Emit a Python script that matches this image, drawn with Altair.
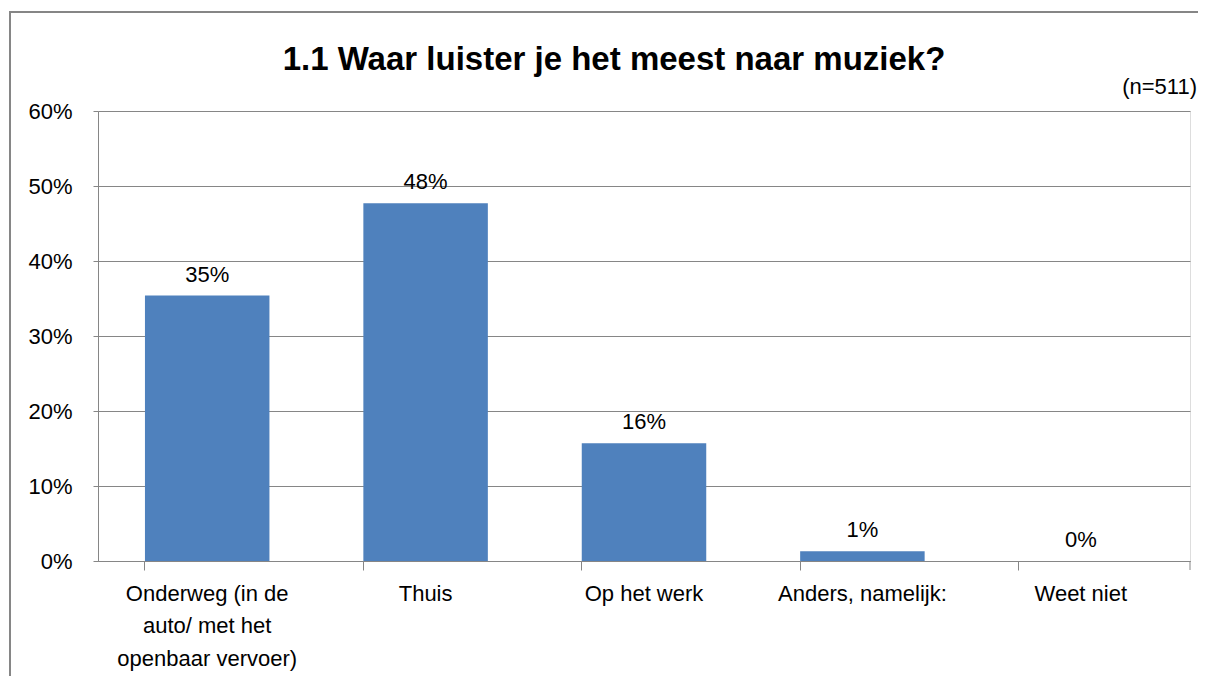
import altair as alt
import pandas as pd

categories = ["Onderweg (in de|auto/ met het|openbaar vervoer)", "Thuis", "Op het werk",
              "Anders, namelijk:", "Weet niet"]
shares = [0.354, 0.477, 0.157, 0.013, 0.0]
y_ticks = [0.0, 0.1, 0.2, 0.3, 0.4, 0.5, 0.6]
title_text = "1.1 Waar luister je het meest naar muziek?"
note_text = "(n=511)"

FONT = "Liberation Sans"
GRAY = "#868686"

df = pd.DataFrame({"cat": categories, "v": shares})

xscale = alt.Scale(paddingInner=0.43, paddingOuter=0.215)
yscale = alt.Scale(domain=[0, 0.6], nice=False)

bars = alt.Chart(df).mark_bar(color="#4F81BD").encode(
    x=alt.X("cat:N", sort=None, scale=xscale, title=None,
            axis=alt.Axis(orient="bottom", labelAngle=0, ticks=False, tickSize=0, domain=True,
                          domainColor=GRAY,
                          labelExpr="split(datum.label, '|')", labelFontSize=22, labelFont=FONT,
                          labelColor="black", labelPadding=22, labelLineHeight=32.5,
                          labelLimit=0, grid=False)),
    y=alt.Y("v:Q", scale=yscale, title=None,
            axis=alt.Axis(values=y_ticks, format=".0%", labelFontSize=22, labelFont=FONT,
                          labelColor="black", labelPadding=21, tickSize=5, tickColor=GRAY,
                          domainColor=GRAY, gridColor=GRAY, gridWidth=1)),
)

labels = alt.Chart(df).mark_text(baseline="bottom", dy=-9, fontSize=22, font=FONT,
                                 color="black").encode(
    x=alt.X("cat:N", sort=None, scale=xscale, title=None,
            axis=alt.Axis(orient="bottom", bandPosition=0, labels=False, domain=False,
                          grid=False, tickSize=9, tickColor=GRAY)),
    y=alt.Y("v:Q", scale=yscale, axis=None),
    text=alt.Text("v:Q", format=".0%"),
)

end_tick = alt.Chart(pd.DataFrame({"k": [1]})).mark_rule(color=GRAY).encode(
    x=alt.value(1092), y=alt.value(450), y2=alt.value(459))

frame = alt.Chart(pd.DataFrame({"k": [1]})).mark_rect(
    fill=None, stroke=GRAY, strokeWidth=2).encode(
    x=alt.value(-88), x2=alt.value(1300), y=alt.value(-99), y2=alt.value(800))

title = alt.Chart(pd.DataFrame({"t": [title_text]})).mark_text(
    fontSize=33, fontWeight="bold", font=FONT, color="black", baseline="middle",
    align="center").encode(text="t:N", x=alt.value(516), y=alt.value(-51))

note = alt.Chart(pd.DataFrame({"t": [note_text]})).mark_text(
    fontSize=22, font=FONT, color="black", baseline="middle", align="right").encode(
    text="t:N", x=alt.value(1099), y=alt.value(-24))

chart = alt.layer(frame, bars, labels, end_tick, title, note).resolve_axis(
    x="independent", y="independent"
).properties(
    width=1092, height=450,
    autosize=alt.AutoSizeParams(type="none"),
    padding={"left": 90, "top": 103, "right": 8, "bottom": 115},
).configure_view(stroke=None).configure(background="white")

chart.save("out.html", embed_options={"renderer": "svg", "actions": False})
